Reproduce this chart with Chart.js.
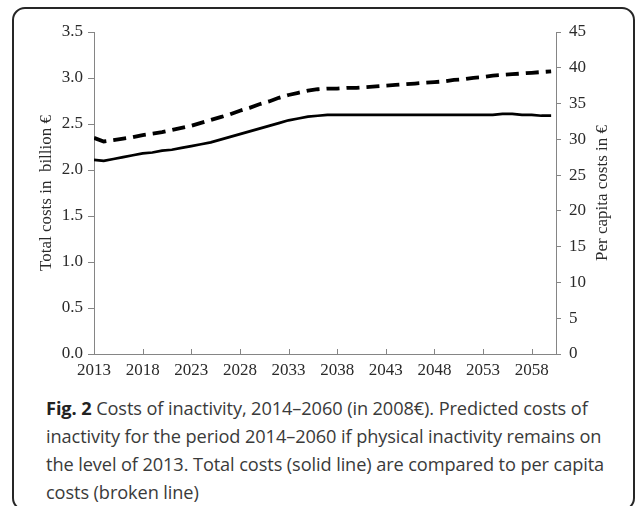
<!DOCTYPE html>
<html lang="en">
<head>
  <meta charset="utf-8">
  <title>Costs of inactivity, 2014-2060</title>
  <script src="https://cdn.jsdelivr.net/npm/chart.js@4/dist/chart.umd.min.js"></script>
  <style>
    body { margin: 0; background: #fff; }
    #box {
      position: absolute; left: 12px; top: 7px; width: 619px; height: 500px;
      border: 2px solid #262626; border-radius: 13px;
    }
    #wrap { position: absolute; left: 0; top: 0; width: 635px; height: 392px; }
    #cap {
      position: absolute; left: 46px; top: 394px; white-space: nowrap;
      font-family: "Open Sans", sans-serif; font-size: 18.2px; line-height: 28px; color: #3a3a3a;
      letter-spacing: -0.1px;
    }
    #cap b { color: #222; }
  </style>
</head>
<body>
  <div id="box"></div>
  <div id="wrap"><canvas id="c"></canvas></div>
  <div id="cap"><b>Fig. 2</b> Costs of inactivity, 2014–2060 (in 2008€). Predicted costs of<br>inactivity for the period 2014–2060 if physical inactivity remains on<br>the level of 2013. Total costs (solid line) are compared to per capita<br>costs (broken line)</div>
  <script>
    // years on the x axis
    var years = [2013, 2014, 2015, 2016, 2017, 2018, 2019, 2020, 2021, 2022,
      2023, 2024, 2025, 2026, 2027, 2028, 2029, 2030, 2031, 2032,
      2033, 2034, 2035, 2036, 2037, 2038, 2039, 2040, 2041, 2042,
      2043, 2044, 2045, 2046, 2047, 2048, 2049, 2050, 2051, 2052,
      2053, 2054, 2055, 2056, 2057, 2058, 2059, 2060];
    var xTicks = [2013, 2018, 2023, 2028, 2033, 2038, 2043, 2048, 2053, 2058];

    // total costs, billion EUR (solid line, left axis)
    var totalCosts = [2.11, 2.10, 2.12, 2.14, 2.16, 2.18, 2.19, 2.21, 2.22, 2.24,
      2.26, 2.28, 2.30, 2.33, 2.36, 2.39, 2.42, 2.45, 2.48, 2.51,
      2.54, 2.56, 2.58, 2.59, 2.60, 2.60, 2.60, 2.60, 2.60, 2.60,
      2.60, 2.60, 2.60, 2.60, 2.60, 2.60, 2.60, 2.60, 2.60, 2.60,
      2.60, 2.60, 2.61, 2.61, 2.60, 2.60, 2.59, 2.59];

    // per capita costs, EUR (broken line, right axis)
    var perCapita = [30.2, 29.7, 29.9, 30.1, 30.3, 30.6, 30.8, 31.0, 31.3, 31.6,
      31.9, 32.3, 32.7, 33.1, 33.5, 34.0, 34.4, 34.9, 35.3, 35.8,
      36.2, 36.5, 36.8, 37.0, 37.1, 37.1, 37.2, 37.2, 37.3, 37.4,
      37.5, 37.6, 37.7, 37.8, 37.9, 38.0, 38.1, 38.3, 38.4, 38.6,
      38.7, 38.9, 39.0, 39.1, 39.2, 39.3, 39.4, 39.5];

    var serif = "'Liberation Serif', 'Times New Roman', serif";
    var axisGrey = '#858585';
    var textCol = '#2a2a2a';

    function pts(arr) {
      return years.map(function (y, i) { return { x: y, y: arr[i] }; });
    }

    // x ticks point into the plot, right title reads upwards
    var extras = {
      id: 'extras',
      afterDraw: function (chart) {
        var ctx = chart.ctx, x = chart.scales.x, yr = chart.scales.yR;
        ctx.save();
        ctx.strokeStyle = axisGrey;
        ctx.lineWidth = 1;
        xTicks.forEach(function (v) {
          var px = Math.round(x.getPixelForValue(v)) + 0.5;
          ctx.beginPath();
          ctx.moveTo(px, x.top);
          ctx.lineTo(px, x.top - 5);
          ctx.stroke();
        });
        ctx.translate(yr.right - 32, (yr.top + yr.bottom) / 2);
        ctx.rotate(-Math.PI / 2);
        ctx.fillStyle = textCol;
        ctx.font = '17px ' + serif;
        ctx.textAlign = 'center';
        ctx.textBaseline = 'middle';
        ctx.fillText('Per capita costs in €', 0, 0);
        ctx.restore();
      }
    };

    new Chart(document.getElementById('c'), {
      type: 'line',
      data: {
        datasets: [{
          label: 'Total costs', data: pts(totalCosts), yAxisID: 'yL',
          borderColor: '#000', borderWidth: 2.7, pointRadius: 0, tension: 0
        }, {
          label: 'Per capita costs', data: pts(perCapita), yAxisID: 'yR',
          borderColor: '#000', borderWidth: 3.8, borderDash: [13, 7], pointRadius: 0, tension: 0
        }]
      },
      options: {
        responsive: true,
        maintainAspectRatio: false,
        animation: false,
        layout: { padding: { top: 32, left: 0, right: 0, bottom: 0 } },
        plugins: { legend: { display: false }, tooltip: { enabled: false } },
        scales: {
          x: {
            type: 'linear', min: 2013, max: 2060.5,
            afterBuildTicks: function (axis) { axis.ticks = xTicks.map(function (v) { return { value: v }; }); },
            afterFit: function (axis) { axis.height = 38; },
            border: { color: axisGrey, width: 1 },
            grid: { drawOnChartArea: false, drawTicks: false },
            ticks: { padding: 6, maxRotation: 0, autoSkip: false, color: textCol, font: { family: serif, size: 17 },
              callback: function (v) { return String(v); } }
          },
          yL: {
            position: 'left', min: 0, max: 3.5,
            afterFit: function (axis) { axis.width = 94; },
            border: { color: axisGrey, width: 1 },
            grid: { drawOnChartArea: false, tickLength: 6, color: axisGrey },
            ticks: { stepSize: 0.5, padding: 5, color: textCol, font: { family: serif, size: 17 },
              callback: function (v) { return v.toFixed(1); } },
            title: { display: true, text: 'Total costs in  billion €', color: textCol,
              font: { family: serif, size: 17 }, padding: { top: 36, bottom: 0 } }
          },
          yR: {
            position: 'right', min: 0, max: 45,
            afterFit: function (axis) { axis.width = 79; },
            border: { color: axisGrey, width: 1 },
            grid: { drawOnChartArea: false, tickLength: 5, color: axisGrey },
            ticks: { stepSize: 5, padding: 8, color: textCol, font: { family: serif, size: 17 } }
          }
        }
      },
      plugins: [extras]
    });
  </script>
</body>
</html>
